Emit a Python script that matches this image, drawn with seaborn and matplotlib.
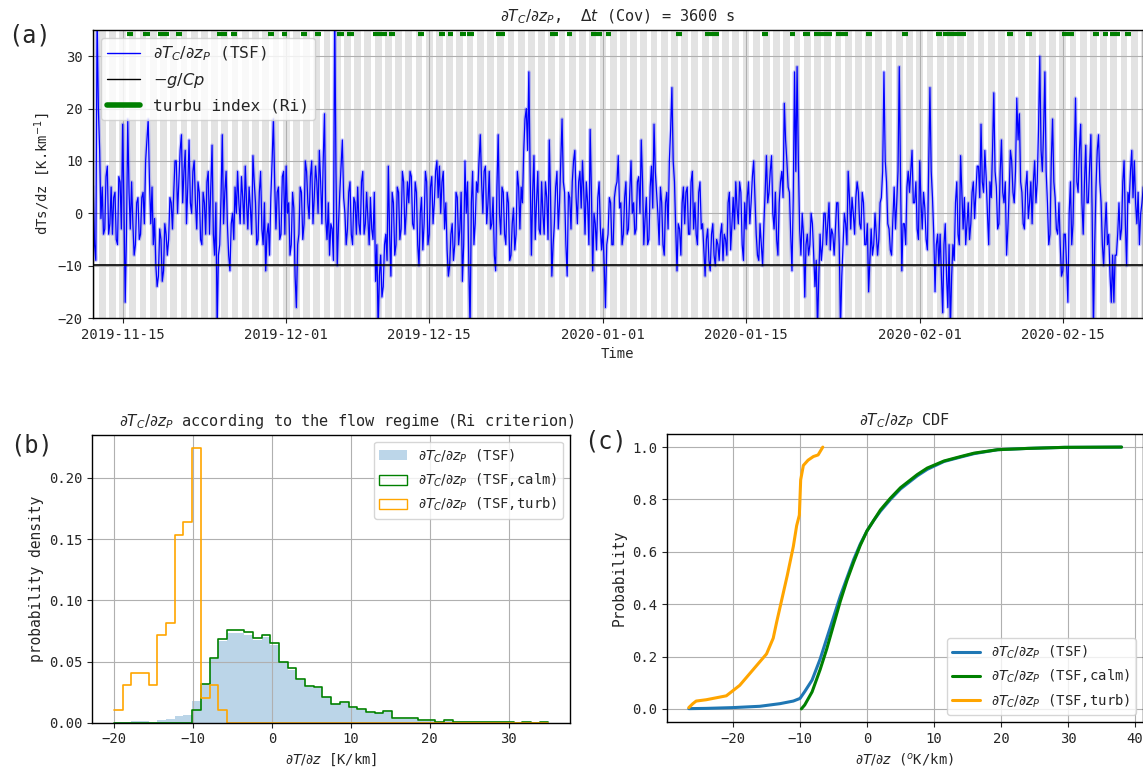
import numpy as np
import pandas as pd
import matplotlib
matplotlib.use('Agg')
import matplotlib.pyplot as plt
import matplotlib.dates as mdates
from matplotlib.lines import Line2D
from matplotlib.patches import Patch
import seaborn as sns

# ------------------------------------------------------------------ data
# dT/dz (TSF) time series, values at 00, 06, 12, 18 h from 2019-11-12
tsf_values = [
    1, -6, 38, 12,   5, -3, 9, -2,   -4, 4, -6, 6,
    17, -17, 18, -3,   -2, -6, 3, -4,   4, 10, 18, -2,   -6, -10, -12, -5,
    -11, -4, -5, 2,   4, 10, 6, 15,   8, -2, 14, 0,   10, -3, 4, -6,
    2, 6, -4, 13,   -8, -22, -6, 15,   4, -2, -11, 0,   5, 8, -2, 3,
    9, -3, 1, 11,   2, -5, 8, -6,   -11, -2, 3, 18,   -3, 5, -4, 8,
    9, 2, -6, 1,   -18, -4, 4, -2,   8, -1, 10, 3,   6, 12, -2, 19,
    -5, -8, -3, 40,   -10, 4, 14, 0,   -3, 6, -6, 2,   5, -4, 8, -2,
    -1, 3, -5, -13,   -22, -8, -14, -4,   9, -12, 2, -6,   4, -3, 6, 0,
    2, 7, -3, 4,   -10, 3, -2, 6,   -4, 7, 2, 10,   9, 6, -3, -7,
    -10, -2, -6, 3,   -3, -13, 10, 6,   -22, 8, -2, 4,   15, 0, 9, 2,
    -3, 3, -11, 15,   -4, 4, -6, 2,   -8, 1, -4, 5,   5, 12, 20, 27,
    -8, 11, 2, -3,   6, -4, 3, 14,   -12, -2, 8, 2,   18, 4, -12, 3,
    6, 12, -2, 8,   10, -4, 2, 16,   -11, -2, 3, -3,   -3, -18, -4, 2,
    -6, 5, 11, 2,   -4, 6, -3, 10,   2, -3, 7, 14,   -6, 3, -5, 9,
    17, 4, -6, 2,   -8, 4, 10, 24,   6, -11, -3, 2,   -2, 5, -4, 8,
    2, -6, 6, -2,   -12, -3, -11, -2,   -10, -6, -4, -9,   -5, 2, -7, 3,
    6, -2, 4, -9,   -3, 6, 2, 10,   -4, -9, -6, -2,   11, 4, 11, -3,
    -5, 2, 8, 21,   10, 4, -11, 27,   28, -3, 0, -16,   -4, -6, -2, -14,
    -22, -4, -6, 0,   -2, -7, -4, -3,   2, -22, -6, -2,   8, -3, 0, 3,
    4, -3, 2, -6,   -15, -3, -6, -4,   -5, 3, 27, 6,   -3, -8, 5, 2,
    28, -11, -2, 5,   4, 12, 2, -3,   10, -3, 1, -7,   24, 3, -15, -4,
    -4, -19, -2, -18,   -22, -6, 2, -4,   11, -3, -6, 2,   -2, 6, 4, 9,
    17, 4, 7, -6,   3, 23, 5, -2,   14, 2, -8, 4,   10, 2, 22, 19,
    4, -3, 8, 2,   -2, 10, 6, 30,   8, 27, 2, -4,   18, 3, -4, -6,
    -11, -4, -17, 6,   -2, 22, 4, 17,   -4, 13, 2, 15,   -22, 5, 15, 2,
    -10, 2, -4, -17,   -17, -8, 2, -3,   10, -10, 2, 12,   10, -2, -6, 2,
]
# values at 03, 09, 15, 21 h of the same days
tsf_values_offset = [
    5, -9, 20, -1,   -4, 7, -4, 5,   3, -5, 7, -3,
    2, -4, 4, 6,   -8, 2, -5, 3,   -2, 14, 6, 5,   -1, -14, -3, -13,
    -2, -8, 3, -3,   10, 0, 12, 2,   12, 5, 2, 8,   2, 6, -5, 4,
    -4, 8, 5, -4,   2, -8, 3, -2,   8, -8, -2, -5,   0, 2, 7, -2,
    2, 5, -4, 6,   -6, 4, -3, 2,   -4, -8, 10, 6,   4, -5, 7, -4,
    0, -8, 4, -12,   -6, 5, -5, 10,   2, 7, -2, 9,   0, 6, 10, -1,
    2, -2, -9, 8,   -2, 9, 3, -6,   4, -4, 3, -4,   -2, 6, -4, 4,
    -6, -3, 4, -6,   -12, -16, -6, -9,   -4, 4, -8, 5,   -5, 8, -4, 6,
    8, -2, 6, -6,   0, -7, 8, -6,   5, -2, 8, 3,   0, 8, 2, -12,
    -4, -9, 4, -6,   4, -6, 0, -10,   2, -6, 6, 10,   6, 8, -2, 8,
    -2, -8, 5, 0,   5, -4, 4, -9,   -2, -7, 8, -3,   2, 18, 12, 8,
    4, -5, 8, -4,   0, 6, -5, 3,   -6, 5, -3, 10,   6, -6, 4, -3,
    10, 3, 6, 1,   4, 6, -6, 4,   0, -7, 6, -7,   -10, -6, 3, -6,
    3, 6, 1, -6,   3, -4, 4, 0,   -4, 6, 0, 6,   -1, -6, 5, 1,
    8, 0, 5, -6,   2, -3, 16, 10,   -3, -2, -8, 5,   4, -4, 6, -3,
    -4, 4, -3, -7,   -5, -9, -4, -8,   -5, -9, -2, -4,   -8, 4, -2, -3,
    1, 6, -6, 2,   3, -2, 7, 3,   -8, -2, -10, 4,   2, 8, 0, 4,
    -8, 6, 3, 14,   5, -4, 3, 8,   10, -8, -4, -6,   -8, 0, -8, -9,
    -12, -9, 0, -6,   2, -3, -8, 2,   -6, -12, 0, -6,   3, 3, -4, 6,
    -2, 4, -6, -2,   -9, -8, 0, -8,   2, 8, 10, -2,   -7, -1, -3, 8,
    6, -2, -6, 8,   8, 2, 6, -5,   2, 4, -5, 8,   8, -4, -6, -10,
    -12, -6, -12, -6,   -12, -9, 6, -6,   4, 3, -2, -5,   4, -1, 9, 3,
    6, 12, 0, 6,   12, 8, -3, 8,   4, 6, -3, 12,   4, 8, 14, 6,
    -2, 5, -1, 6,   6, 2, 16, 12,   16, 8, -6, 10,   6, -3, 2, -12,
    -4, -10, 0, -6,   10, 6, 12, 2,   6, 2, 9, 0,   -6, 12, 6, -6,
    -3, -6, -12, -8,   -8, -4, -5, 6,   -2, 4, 8, 3,   2, 4, 0, 5,
]
series_start = '2019-11-12 00:00'
lapse_rate = -9.8  # -g/Cp

# turbulent periods (Ri), days since 2019-11-15 00:00
turb_start_days = [0.42, 1.98, 3.45, 5.21, 9.22, 10.59, 14.20, 15.57, 17.43, 18.80,
                   20.95, 21.93, 24.47, 26.03, 28.87, 30.92, 31.80, 32.97, 33.65,
                   36.58, 41.86, 43.52, 45.87, 47.34, 54.18, 57.01, 62.58, 65.32,
                   66.60, 67.67, 69.82, 72.75, 76.27, 79.60, 80.28, 86.54, 88.40,
                   91.92, 94.95, 95.93, 96.61, 98.08]
turb_end_days = [1.01, 2.67, 4.53, 5.80, 10.20, 11.17, 14.79, 16.06, 18.02, 19.39,
                 21.63, 22.62, 25.84, 26.62, 29.45, 31.50, 32.29, 33.56, 34.34,
                 37.46, 42.64, 44.01, 46.94, 47.83, 54.76, 58.38, 63.17, 65.81,
                 67.28, 69.43, 70.99, 73.34, 76.85, 80.18, 82.53, 87.13, 88.98,
                 93.09, 95.53, 96.42, 97.59, 98.67]
turb_level = 34.3

time_ticks = ['2019-11-15', '2019-12-01', '2019-12-15', '2020-01-01',
              '2020-01-15', '2020-02-01', '2020-02-15']

# histograms (probability density), bins of 1.1 K/km from -20 to 35
hist_lo, hist_hi, hist_nbins = -20, 35, 50
hist_all = [0.0003, 0.0008, 0.001, 0.001, 0.0008, 0.0022, 0.0027, 0.0055, 0.006,
            0.018, 0.032, 0.052, 0.0668, 0.073, 0.073, 0.0716, 0.0675, 0.0697,
            0.0635, 0.0485, 0.043, 0.0349, 0.0294, 0.028, 0.0207, 0.015, 0.0158,
            0.0117, 0.0103, 0.0082, 0.0076, 0.0087, 0.003, 0.003, 0.003, 0.0016,
            0.0016, 0.0008, 0.0016, 0.0008, 0.0005, 0.0008, 0.0005, 0.0008,
            0.0004, 0.0004, 0.0, 0.0004, 0.0, 0.0004]
hist_calm = [0, 0, 0, 0, 0, 0, 0, 0, 0,
             0.0104, 0.032, 0.053, 0.068, 0.0757, 0.0757, 0.0743, 0.0694, 0.0713,
             0.0654, 0.0498, 0.0444, 0.0354, 0.030, 0.0289, 0.0212, 0.0153, 0.0166,
             0.0125, 0.0112, 0.0084, 0.0082, 0.0093, 0.0035, 0.0035, 0.0035, 0.0019,
             0.0019, 0.0009, 0.0019, 0.0009, 0.0005, 0.0009, 0.0005, 0.0009,
             0.0005, 0.0005, 0.0, 0.0005, 0.0, 0.0005]
hist_turb = [0.0104, 0.0308, 0.0409, 0.0409, 0.0308, 0.0714, 0.0818, 0.153,
             0.1636, 0.2241, 0.0205, 0.0308, 0.0104]

# CDFs
cdf_all_x = [-26.6, -24, -20, -16, -13, -11, -10, -9.3, -8.2, -7, -6, -5, -4, -3, -2,
             -1, 0, 1, 2, 3.5, 5, 7.5, 9, 11.5, 14, 16, 19.5, 24, 29.5, 38]
cdf_all_p = [0.001, 0.002, 0.005, 0.01, 0.02, 0.03, 0.04, 0.066, 0.11, 0.19, 0.27,
             0.35, 0.43, 0.50, 0.57, 0.63, 0.68, 0.72, 0.755, 0.80, 0.84, 0.89,
             0.915, 0.945, 0.962, 0.975, 0.99, 0.995, 0.999, 1.0]
cdf_calm_x = [-9.8, -9.3, -8.2, -7, -6, -5, -4, -3, -2, -1, 0, 1, 2, 3.5, 5, 7.5, 9,
              11.5, 14, 16, 19.5, 24, 29.5, 38]
cdf_calm_p = [0.0, 0.015, 0.065, 0.15, 0.23, 0.32, 0.41, 0.49, 0.56, 0.625, 0.68,
              0.72, 0.76, 0.805, 0.845, 0.895, 0.92, 0.947, 0.964, 0.977, 0.99,
              0.995, 0.999, 1.0]
cdf_turb_x = [-26.6, -26.0, -25.5, -24, -22, -21, -20, -19, -18, -17, -16, -15, -14,
              -13.5, -12.7, -11.9, -11, -10.5, -10.1, -9.9, -9.5, -8.8, -8, -7.3, -6.6]
cdf_turb_p = [0.005, 0.02, 0.03, 0.035, 0.045, 0.05, 0.07, 0.09, 0.12, 0.15, 0.18,
              0.21, 0.27, 0.33, 0.42, 0.51, 0.62, 0.70, 0.74, 0.875, 0.93, 0.95,
              0.964, 0.97, 1.0]

# ------------------------------------------------------------------ style
sns.set_style('white')
plt.rcParams['font.family'] = ['DejaVu Sans Mono', 'DejaVu Sans']
plt.rcParams['mathtext.fontset'] = 'dejavusans'
plt.rcParams['xtick.labelsize'] = 10
plt.rcParams['ytick.labelsize'] = 10
plt.rcParams['xtick.bottom'] = True
plt.rcParams['ytick.left'] = True
plt.rcParams['axes.edgecolor'] = 'black'
plt.rcParams['axes.linewidth'] = 1.0

W, H = 1143, 767
fig = plt.figure(figsize=(W / 100, H / 100), dpi=100)

def box(l, t, r, b):
    return [l / W, 1 - b / H, (r - l) / W, (b - t) / H]

ax_a = fig.add_axes(box(92.7, 30, 1143, 318))
ax_b = fig.add_axes(box(92.3, 434.7, 570, 722.7))
ax_c = fig.add_axes(box(666.7, 434, 1143, 722))

grid_kw = dict(color='#b0b0b0', lw=0.8)
lbl = r'$\partial T_C/\partial z_P$'

# ------------------------------------------------------------------ (a)
t0 = pd.date_range(series_start, periods=len(tsf_values), freq='6h')
t1 = pd.date_range(series_start, periods=len(tsf_values_offset), freq='6h') + pd.Timedelta(hours=3)
df_ts = pd.concat([pd.DataFrame({'time': t0, 'val': tsf_values}),
                   pd.DataFrame({'time': t1, 'val': tsf_values_offset})]
                  ).sort_values('time').reset_index(drop=True)
origin = pd.Timestamp('2019-11-15')

for day in pd.date_range('2019-11-10', '2020-02-25', freq='D'):
    ax_a.axvspan(day + pd.Timedelta(hours=16), day + pd.Timedelta(hours=32),
                 color='#e3e3e3', lw=0, zorder=0)

sns.lineplot(data=df_ts, x='time', y='val', color='blue', lw=2.6, alpha=0.2,
             estimator=None, ax=ax_a)
sns.lineplot(data=df_ts, x='time', y='val', color='blue', lw=0.9,
             estimator=None, ax=ax_a)
ax_a.axhline(lapse_rate, color='black', lw=1.2, zorder=3)

rows = []
for i, (s, e) in enumerate(zip(turb_start_days, turb_end_days)):
    rows.append((origin + pd.Timedelta(days=s), turb_level, i))
    rows.append((origin + pd.Timedelta(days=e), turb_level, i))
df_turb = pd.DataFrame(rows, columns=['time', 'y', 'seg'])
sns.lineplot(data=df_turb, x='time', y='y', units='seg', estimator=None,
             color='green', lw=3, solid_capstyle='butt', ax=ax_a)

ax_a.set_xlim(pd.Timestamp('2019-11-12 01:40'), pd.Timestamp('2020-02-22 20:25'))
ax_a.set_ylim(-20, 35)
ax_a.set_yticks([-20, -10, 0, 10, 20, 30])
ax_a.set_xticks([pd.Timestamp(t) for t in time_ticks])
ax_a.xaxis.set_major_formatter(mdates.DateFormatter('%Y-%m-%d'))
ax_a.grid(True, **grid_kw)
ax_a.set_xlabel('Time', fontsize=10)
ax_a.set_ylabel(r'dTs/dz [K.km$^{-1}$]', fontsize=10)
ax_a.set_title(lbl + r',  $\Delta t$ (Cov) = 3600 s', fontsize=11)
h_a = [Line2D([], [], color='blue', lw=1),
       Line2D([], [], color='black', lw=1),
       Line2D([], [], color='green', lw=4)]
ax_a.legend(h_a, [lbl + ' (TSF)', r'$-g/Cp$', 'turbu index (Ri)'],
            loc='upper left', fontsize=11.7, framealpha=0.8)

# ------------------------------------------------------------------ (b)
edges = list(np.linspace(hist_lo, hist_hi, hist_nbins + 1))
centers = [(a + b) / 2 for a, b in zip(edges[:-1], edges[1:])]
df_all = pd.DataFrame({'x': centers, 'w': hist_all})
df_calm = pd.DataFrame({'x': centers, 'w': hist_calm})
df_turb_h = pd.DataFrame({'x': centers[:len(hist_turb)], 'w': hist_turb})
sns.histplot(data=df_all, x='x', weights='w', bins=edges, element='step', fill=True,
             color='#1f77b4', alpha=0.3, lw=0, zorder=0.5, ax=ax_b)
sns.histplot(data=df_calm, x='x', weights='w', bins=edges, element='step', fill=False,
             color='green', lw=1.2, ax=ax_b)
sns.histplot(data=df_turb_h, x='x', weights='w', bins=edges,
             element='step', fill=False, color='orange', lw=1.2, ax=ax_b)
ax_b.set_xlim(-22.75, 37.75)
ax_b.set_ylim(0, 0.2353)
ax_b.set_xticks([-20, -10, 0, 10, 20, 30])
ax_b.set_yticks([0, 0.05, 0.10, 0.15, 0.20])
ax_b.set_yticklabels(['0.00', '0.05', '0.10', '0.15', '0.20'])
ax_b.grid(True, **grid_kw)
ax_b.set_xlabel(r'$\partial T/\partial z$ [K/km]', fontsize=10)
ax_b.set_ylabel('probability density', fontsize=10.5)
ax_b.set_title(lbl + ' according to the flow regime (Ri criterion)', fontsize=11,
               x=0.533)
h_b = [Patch(facecolor='#bcd6e9', edgecolor='none'),
       Patch(facecolor='none', edgecolor='green'),
       Patch(facecolor='none', edgecolor='orange')]
ax_b.legend(h_b, [lbl + ' (TSF)', lbl + ' (TSF,calm)', lbl + ' (TSF,turb)'],
            loc='upper right', fontsize=10)

# ------------------------------------------------------------------ (c)
sns.lineplot(x=cdf_all_x, y=cdf_all_p, color='#1f77b4', lw=2.2, estimator=None,
             sort=False, ax=ax_c)
sns.lineplot(x=cdf_calm_x, y=cdf_calm_p, color='green', lw=2.2, estimator=None,
             sort=False, ax=ax_c)
sns.lineplot(x=cdf_turb_x, y=cdf_turb_p, color='orange', lw=2.2, estimator=None,
             sort=False, ax=ax_c)
ax_c.set_xlim(-29.9, 41.2)
ax_c.set_ylim(-0.05, 1.05)
ax_c.set_xticks([-20, -10, 0, 10, 20, 30, 40])
ax_c.set_yticks([0, 0.2, 0.4, 0.6, 0.8, 1.0])
ax_c.grid(True, **grid_kw)
ax_c.set_xlabel(r'$\partial T/\partial z$ ($^o$K/km)', fontsize=10)
ax_c.set_ylabel('Probability', fontsize=10.5)
ax_c.set_title(lbl + ' CDF', fontsize=11)
h_c = [Line2D([], [], color='#1f77b4', lw=2.2),
       Line2D([], [], color='green', lw=2.2),
       Line2D([], [], color='orange', lw=2.2)]
ax_c.legend(h_c, [lbl + ' (TSF)', lbl + ' (TSF,calm)', lbl + ' (TSF,turb)'],
            loc='lower right', fontsize=10)

# panel letters
fig.text(8 / W, 1 - 36 / H, '(a)', fontsize=17, va='center', ha='left')
fig.text(10 / W, 1 - 445 / H, '(b)', fontsize=17, va='center', ha='left')
fig.text(584 / W, 1 - 441 / H, '(c)', fontsize=17, va='center', ha='left')

fig.savefig('out.png', dpi=100)
